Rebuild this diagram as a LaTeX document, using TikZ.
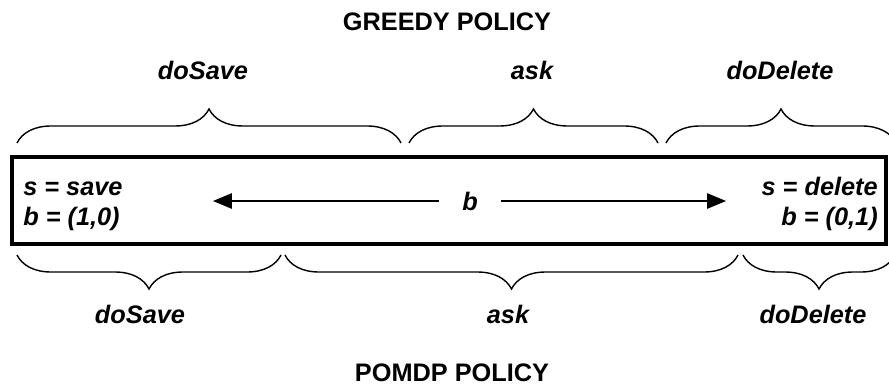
\documentclass[tikz,border=0pt]{standalone}
\usepackage{fontspec}
\setmainfont{Liberation Sans}
\usetikzlibrary{arrows.meta,positioning,decorations.pathreplacing}

\begin{document}
\begin{tikzpicture}[
    x=0.025cm, y=-0.025cm,
    >={Triangle[length=13.5pt,width=11pt]},
    title_lbl/.style={font=\fontsize{18}{22}\selectfont\bfseries, anchor=base, inner sep=0pt},
    act_lbl/.style={font=\fontsize{18}{22}\selectfont\bfseries\itshape, anchor=base, inner sep=0pt},
    state_lbl/.style={font=\fontsize{18}{22}\selectfont\bfseries\itshape, inner sep=0pt},
    brace_line/.style={decorate, decoration={brace, amplitude=0.85cm}, line width=1pt},
    box_line/.style={line width=2.8pt}
]
    \useasboundingbox (0,0) rectangle (889,387);

    % Titles
    \node[title_lbl] (greedy) at (447,31) {GREEDY POLICY};
    \node[title_lbl] (pomdp) at (452,381) {POMDP POLICY};

    % Belief line
    \draw[box_line] (12,157) rectangle (886,244);
    \node[state_lbl, anchor=base west] (ssave) at (23,195) {s = save};
    \node[state_lbl, anchor=base west] (bsave) at (23,225) {b = (1,0)};
    \node[state_lbl, anchor=base east] (sdel) at (878,195) {s = delete};
    \node[state_lbl, anchor=base east] (bdel) at (878,225) {b = (0,1)};
    \node[state_lbl, inner xsep=0.58cm] (bval) at (470,201) {b};
    \coordinate (lend) at (213,201);
    \coordinate (rend) at (726,201);
    \draw[->, line width=1pt] (bval) -- (lend);
    \draw[->, line width=1pt] (bval) -- (rend);

    % Greedy policy braces
    \draw[brace_line] (17,143) -- (401,143);
    \draw[brace_line] (409,143) -- (658,143);
    \draw[brace_line] (666,143) -- (896,143);
    \node[act_lbl] (gsave) at (203,80) {doSave};
    \node[act_lbl] (gask) at (532,80) {ask};
    \node[act_lbl] (gdel) at (780,80) {doDelete};

    % POMDP policy braces
    \draw[brace_line] (281,255) -- (17,255);
    \draw[brace_line] (738,255) -- (285,255);
    \draw[brace_line] (895,255) -- (743,255);
    \node[act_lbl] (psave) at (140,323) {doSave};
    \node[act_lbl] (pask) at (508,323) {ask};
    \node[act_lbl] (pdel) at (813,323) {doDelete};
\end{tikzpicture}
\end{document}
